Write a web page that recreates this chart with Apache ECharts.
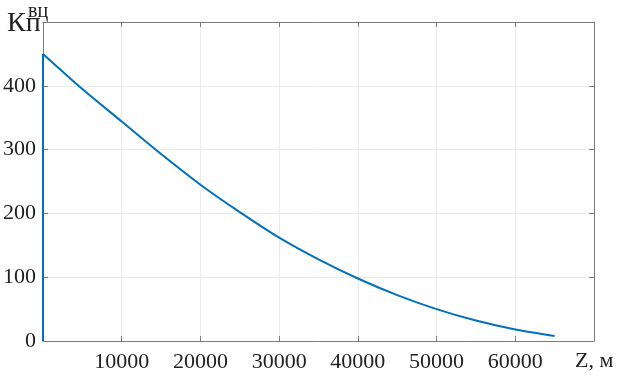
<!DOCTYPE html>
<html>
<head>
<meta charset="utf-8">
<script src="https://cdn.jsdelivr.net/npm/echarts@6/dist/echarts.min.js"></script>
<style>
	html, body { margin: 0; padding: 0; background: #fff; }
	#chart_box { width: 618px; height: 379px; }
</style>
</head>
<body>
<div id="chart_box"></div>
<script>
/*дальность Z, м*/
var zValues = [0, 0, 5000, 10000, 15000, 20000, 25000, 30000, 35000, 40000, 45000, 50000, 55000, 60000, 65000];
/*коэффициент Кп вц*/
var kValues = [0, 450, 395, 344, 293, 245, 202, 162, 128, 98, 72, 50, 32, 18, 8];
/*подписи осей*/
var xTicks = [10000, 20000, 30000, 40000, 50000, 60000];
var yTicks = [0, 100, 200, 300, 400];

/*вертикальный участок при Z = 0*/
var edgeData = [[zValues[0], kValues[0]], [zValues[1], kValues[1]]];
/*основная кривая*/
var curveData = [];
for (var i = 1; i < zValues.length; i++) {
	curveData.push([zValues[i], kValues[i]]);
}

var fontFam = 'Liberation Serif';
var axisColor = '#7a7a7a';
var gridColor = '#ebebeb';
var lineColor = '#0072BD';

var myChart = echarts.init(document.getElementById('chart_box'));
var option = {
	animation: false,
	grid: { left: 43, right: 24, top: 22, bottom: 38 },
	xAxis: [{
		type: 'value',
		min: 0,
		max: 70000,
		interval: 10000,
		axisLine: { show: true, onZero: false, lineStyle: { color: axisColor, width: 1 } },
		axisTick: { show: true, inside: true, length: 5, lineStyle: { color: axisColor } },
		splitLine: { show: true, lineStyle: { color: gridColor, width: 1 } },
		axisLabel: {
			color: '#222', fontFamily: fontFam, fontSize: 22, margin: 10,
			formatter: function(v) { return xTicks.indexOf(v) >= 0 ? String(v) : ''; }
		}
	}, {
		type: 'value',
		position: 'top',
		min: 0,
		max: 70000,
		interval: 10000,
		axisLine: { show: true, onZero: false, lineStyle: { color: axisColor, width: 1 } },
		axisTick: { show: true, inside: true, length: 5, lineStyle: { color: axisColor } },
		splitLine: { show: false },
		axisLabel: { show: false }
	}],
	yAxis: [{
		type: 'value',
		min: 0,
		max: 500,
		interval: 100,
		axisLine: { show: true, onZero: false, lineStyle: { color: axisColor, width: 1 } },
		axisTick: { show: true, inside: true, length: 5, lineStyle: { color: axisColor } },
		splitLine: { show: true, lineStyle: { color: gridColor, width: 1 } },
		axisLabel: {
			color: '#222', fontFamily: fontFam, fontSize: 22, margin: 7,
			formatter: function(v) { return yTicks.indexOf(v) >= 0 ? String(v) : ''; }
		}
	}, {
		type: 'value',
		position: 'right',
		min: 0,
		max: 500,
		interval: 100,
		axisLine: { show: true, onZero: false, lineStyle: { color: axisColor, width: 1 } },
		axisTick: { show: true, inside: true, length: 5, lineStyle: { color: axisColor } },
		splitLine: { show: false },
		axisLabel: { show: false }
	}],
	graphic: [{
		type: 'text', left: 7, top: 10,
		style: { text: 'Кп', fontFamily: fontFam, fontSize: 28, fill: '#222' }
	}, {
		type: 'text', left: 28, top: 2,
		style: { text: 'вц', fontFamily: fontFam, fontSize: 20, fill: '#222' }
	}, {
		type: 'text', left: 575, top: 350,
		style: { text: 'Z, м', fontFamily: fontFam, fontSize: 22, fill: '#222' }
	}],
	series: [{
		type: 'line',
		data: edgeData,
		symbol: 'none',
		lineStyle: { color: lineColor, width: 2 }
	}, {
		type: 'line',
		data: curveData,
		symbol: 'none',
		smooth: 0.3,
		lineStyle: { color: lineColor, width: 2 }
	}]
};
myChart.setOption(option);
</script>
</body>
</html>
